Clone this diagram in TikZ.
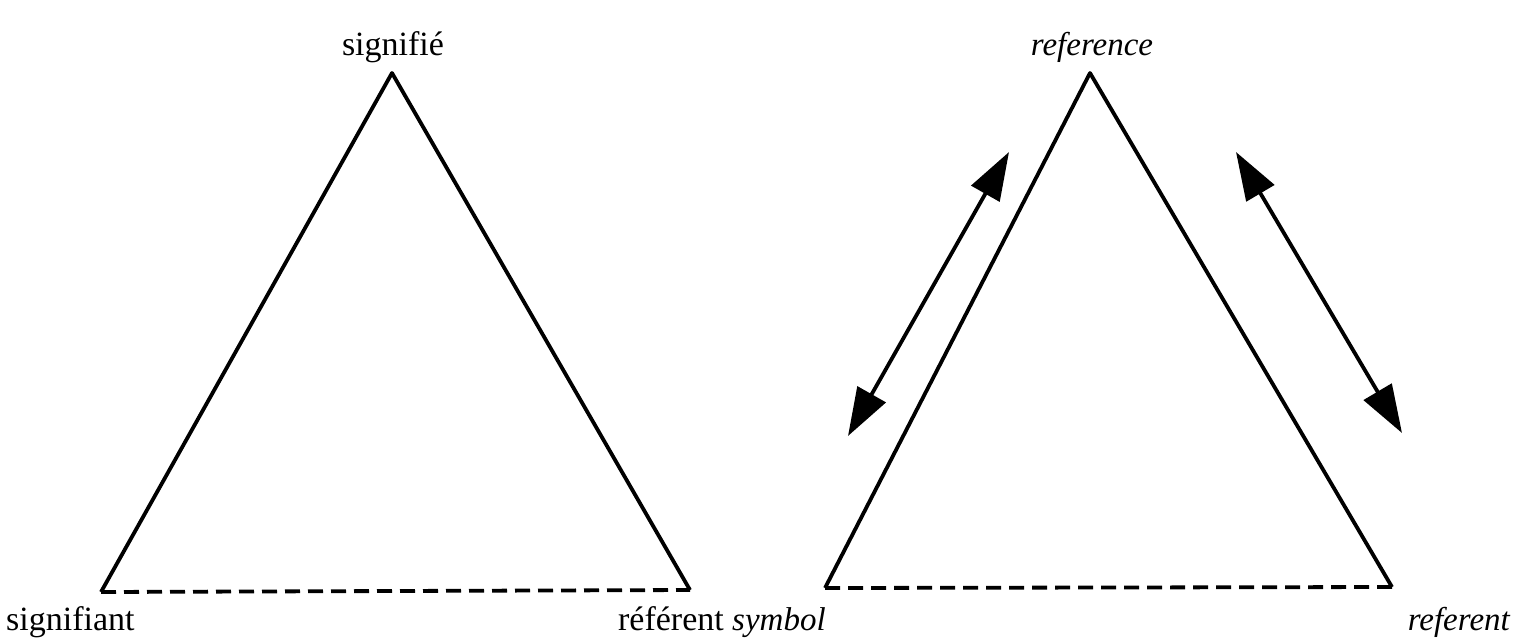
\documentclass[tikz,border=0pt]{standalone}
\usepackage{fontspec}
\setmainfont{Liberation Serif}
\usetikzlibrary{arrows.meta}
\begin{document}
\begin{tikzpicture}[x=1pt,y=-1pt,
  side/.style={line width=3.8pt,line join=round},
  base/.style={line width=3.8pt,dash pattern=on 15pt off 8pt},
  dbl/.style={line width=3.8pt,{Triangle[length=48pt,width=32pt]}-{Triangle[length=48pt,width=32pt]}},
  lab/.style={font=\fontsize{34}{36}\selectfont,inner sep=0pt},
  ilab/.style={font=\fontsize{33}{36}\selectfont\itshape,inner sep=0pt}]
\useasboundingbox (0,0) rectangle (1518,638);
% left triangle
\coordinate (LA) at (392,73);
\coordinate (LB) at (101,592);
\coordinate (LC) at (690,590);
\draw[side] (LB) -- (LA) -- (LC);
\draw[base] (LB) -- (LC);
\node[lab,anchor=base] (sig) at (393,55) {signifié};
\node[lab,anchor=base west] (sigt) at (6,630) {signifiant};
\node[lab,anchor=base east] (ref1) at (724,630) {référent};
% right triangle
\coordinate (RA) at (1090,73);
\coordinate (RB) at (825,588);
\coordinate (RC) at (1392,587);
\draw[side] (RB) -- (RA) -- (RC);
\draw[base] (RB) -- (RC);
\node[ilab,anchor=base] (refc) at (1092,55) {reference};
\node[ilab,anchor=base west] (sym) at (732,630) {symbol};
\node[ilab,anchor=base east] (refr) at (1510,630) {referent};
% arrows
\coordinate (a1) at (1009,152);
\coordinate (a2) at (848,436);
\coordinate (b1) at (1236,152);
\coordinate (b2) at (1402,433);
\draw[dbl] (a2) -- (a1);
\draw[dbl] (b1) -- (b2);
\end{tikzpicture}
\end{document}
